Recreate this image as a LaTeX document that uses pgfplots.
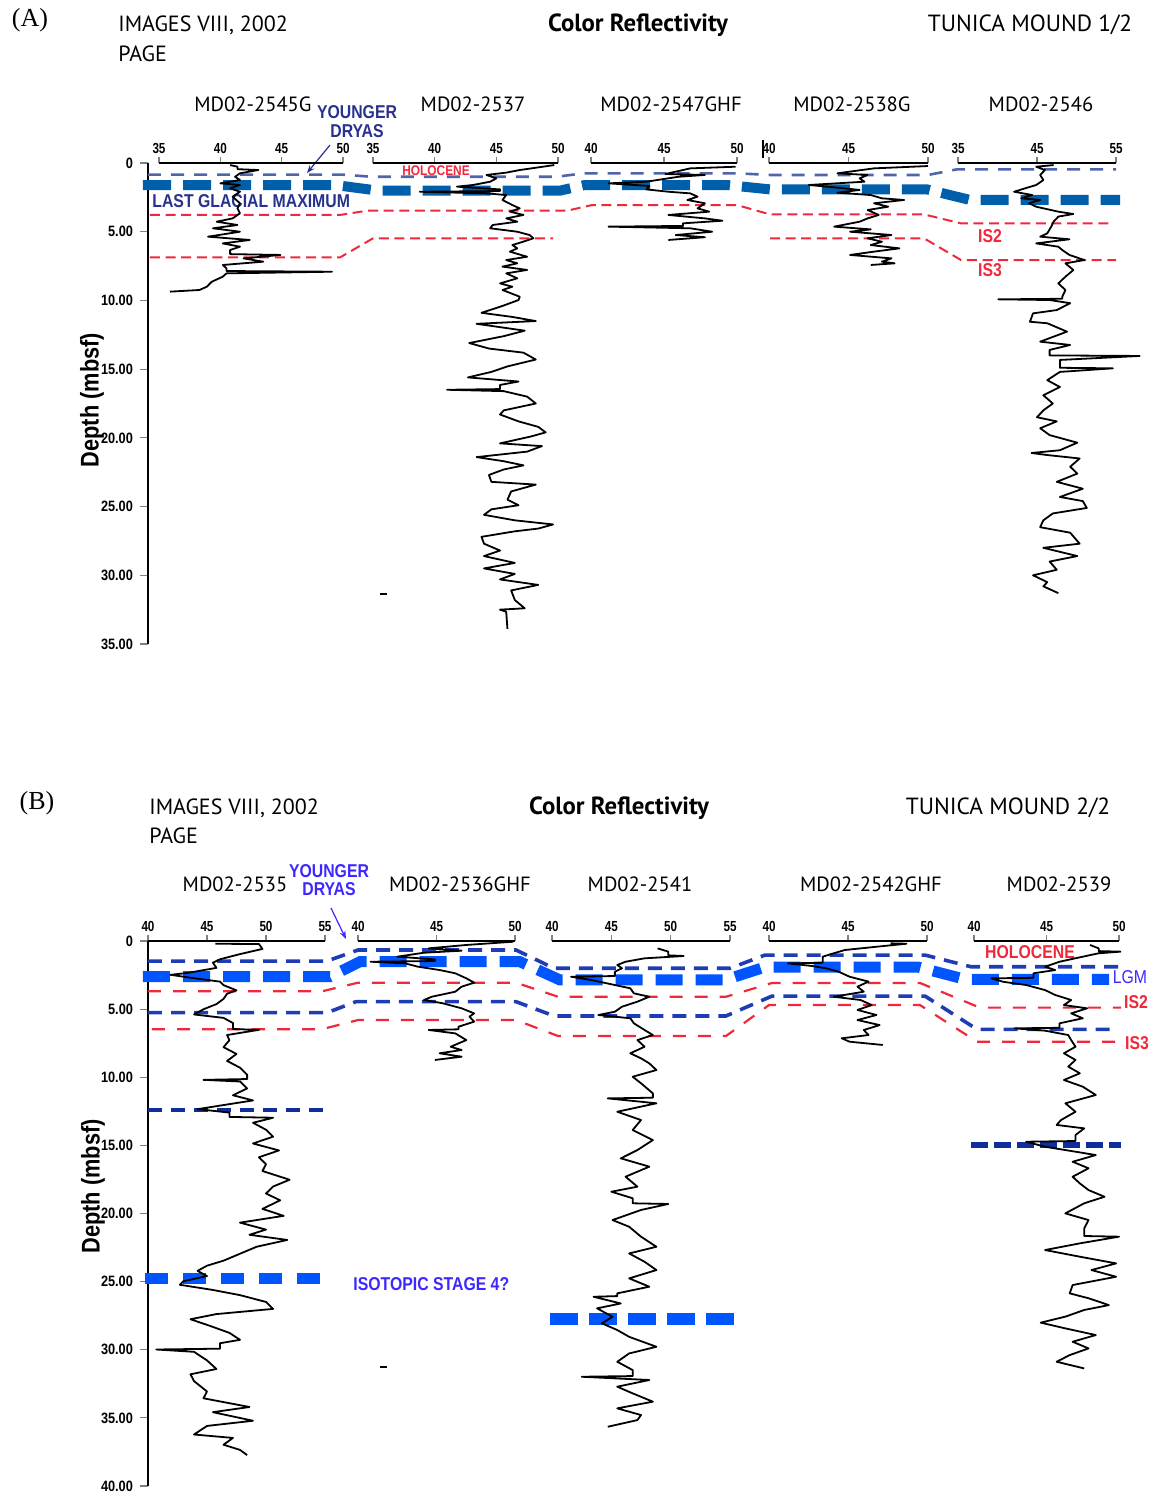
\documentclass[border=0pt]{standalone}
\usepackage{pgfplots}
\pgfplotsset{compat=1.18}
\usepackage{fontspec}
\setmainfont{PT Sans}
\newfontfamily\narrow[FakeStretch=0.85]{Liberation Sans}
\newfontfamily\ticknarrow[FakeStretch=0.8]{Liberation Sans}
\newfontfamily\serif{Liberation Serif}
\usetikzlibrary{arrows.meta}

\definecolor{aLabel}{RGB}{40,50,140}
\definecolor{aYD}{RGB}{80,100,170}
\definecolor{aLGM}{RGB}{0,95,170}
\definecolor{hRed}{RGB}{240,40,60}
\definecolor{bThin}{RGB}{30,60,180}
\definecolor{bThick}{RGB}{0,85,255}
\definecolor{bText}{RGB}{60,40,255}
\definecolor{bNavy}{RGB}{15,45,155}

\newcommand{\lab}{\narrow\bfseries\fontsize{9.3}{10}\selectfont}
\newcommand{\ttl}{\fontsize{11}{12}\selectfont}
\newcommand{\ttlb}{\fontsize{12.4}{13}\selectfont\bfseries}
\newcommand{\ttlr}{\fontsize{11.7}{12}\selectfont}
\newcommand{\core}{\fontsize{10.3}{11}\selectfont}

\pgfplotsset{
  frame/.style={scale only axis, width=503pt, xmin=148, xmax=1154,
    y dir=reverse, ymin=0, clip=false,
    axis x line=none, axis y line=left, y axis line style={-, line width=0.6pt},
    tick align=outside, major tick length=4pt, ytick style={line width=0.6pt},
    yticklabel style={font=\narrow\bfseries\fontsize{7.5}{8}\selectfont},
    every axis plot/.append style={no markers}},
  log/.style={scale only axis, y dir=reverse, ymin=0, clip=false,
    axis x line=top, axis y line=none, x axis line style={-, line width=0.6pt},
    tick align=outside, major tick length=3pt, xtick style={line width=0.6pt},
    xticklabel style={font=\ticknarrow\bfseries\fontsize{7.3}{8}\selectfont, inner sep=1.5pt}},
  trace/.style={black, line width=0.9pt, sharp plot, no markers, line join=round},
}

\begin{document}
\begin{tikzpicture}
\path[use as bounding box] (0,0) rectangle (577pt,-747.5pt);

% ---------------- panel A ----------------
\begin{axis}[frame, height=240.5pt, ymax=35, ytick={0,5,...,35},
  yticklabels={0,5.00,10.00,15.00,20.00,25.00,30.00,35.00},
  at={(74pt,-81.5pt)}, anchor=north west]
\addplot[aYD, line width=1.3pt, dash pattern=on 6.5pt off 5pt] coordinates {(148,0.85)(343,0.85)(372,1.0)(557,1.0)(583,0.75)(737,0.75)(770,0.87)(928,0.87)(957,0.46)(1116,0.46)};
\addplot[aLGM, line width=5pt, dash pattern=on 14pt off 6pt] coordinates {(143,1.60)(335,1.60)(378,2.01)(560,2.01)(585,1.60)(727,1.60)(770,1.92)(927,1.92)(970,2.69)(1120,2.69)};
\addplot[hRed, line width=1pt, dash pattern=on 5pt off 2.8pt] coordinates {(150,3.78)(340,3.78)(367,3.47)(567,3.47)(592,3.06)(737,3.06)(770,3.74)(924,3.74)(961,4.39)(1112,4.39)};
\addplot[hRed, line width=1pt, dash pattern=on 5pt off 2.8pt] coordinates {(150,6.87)(340,6.87)(373,5.48)(553,5.48)};
\addplot[hRed, line width=1pt, dash pattern=on 5pt off 2.8pt] coordinates {(770,5.48)(924,5.48)(961,7.06)(1116,7.06)};
\addplot[black, line width=0.8pt] coordinates {(380,31.36)(387,31.36)};
\addplot[black, line width=0.8pt] coordinates {(763,-1.67)(763,-0.36)};
\draw[aLabel, line width=0.6pt, -{Stealth[length=4pt]}] (330,-1.31) -- (307,0.73);
\node[font=\serif\fontsize{13}{13}\selectfont] at (30,-10.41) {(A)};
\node[anchor=west, font=\ttl, inner sep=0pt] at (118,-10.04) {IMAGES VIII, 2002};
\node[anchor=west, font=\ttl, inner sep=0pt] at (118,-7.93) {PAGE};
\node[font=\ttlb] at (638,-10.04) {Color Reflectivity};
\node[font=\ttlr] at (1030,-10.04) {TUNICA MOUND 1/2};
\node[font=\core] at (253,-4.29) {MD02-2545G};
\node[font=\core] at (473,-4.29) {MD02-2537};
\node[font=\core] at (671,-4.29) {MD02-2547GHF};
\node[font=\core] at (852,-4.29) {MD02-2538G};
\node[font=\core] at (1041,-4.29) {MD02-2546};
\node[font=\lab, text=aLabel] at (357,-3.71) {YOUNGER};
\node[font=\lab, text=aLabel] at (357,-2.33) {DRYAS};
\node[font=\narrow\bfseries\fontsize{7}{8}\selectfont, text=hRed] at (436,0.58) {HOLOCENE};
\node[anchor=west, font=\lab, text=aLabel, inner sep=0pt] at (152,2.77) {LAST GLACIAL MAXIMUM};
\node[font=\lab, text=hRed] at (990,5.31) {IS2};
\node[font=\lab, text=hRed] at (990,7.79) {IS3};
\node[rotate=90, font=\narrow\bfseries\fontsize{12.8}{13}\selectfont] at (92,17.25) {Depth (mbsf)};
\end{axis}

\begin{axis}[log, width=92pt, height=240.5pt, ymax=35, xmin=35, xmax=50,
  xtick={35,40,45,50}, xticklabels={35,40,45,50}, at={(79.5pt,-81.5pt)}, anchor=north west]
\addplot[trace] coordinates {(40.8,0.15)(41.4,0.27)(41.4,0.45)(43.1,0.51)(41.6,0.75)(41.2,1.00)(41.6,1.24)(40.0,1.48)(41.6,1.60)(40.8,1.84)(41.6,2.09)(41.0,2.45)(41.6,2.93)(41.4,3.30)(41.6,3.66)(41.0,4.03)(39.7,4.27)(41.4,4.51)(39.4,4.75)(41.6,5.00)(39.0,5.36)(42.4,5.60)(40.2,5.85)(41.6,6.09)(40.8,6.33)(40.8,6.63)(44.9,6.69)(41.9,6.94)(43.5,7.18)(40.2,7.42)(40.5,7.66)(40.5,7.86)(49.1,7.91)(40.5,8.03)(40.2,8.27)(39.3,8.64)(38.9,9.00)(38.3,9.24)(35.9,9.36)};
\end{axis}

\begin{axis}[log, width=92.5pt, height=240.5pt, ymax=35, xmin=35, xmax=50,
  xtick={35,40,45,50}, xticklabels={35,40,45,50}, at={(186.5pt,-81.5pt)}, anchor=north west]
\addplot[trace] coordinates {(49.7,0.15)(46.9,0.51)(45.8,0.70)(44.2,0.87)(45.0,1.12)(44.5,1.36)(43.1,1.60)(41.8,1.72)(45.3,1.92)(45.3,2.04)(38.8,2.09)(44.2,2.21)(45.8,2.33)(45.5,2.69)(46.3,3.06)(46.9,3.30)(46.1,3.54)(47.2,3.78)(45.8,4.03)(46.7,4.27)(44.7,4.51)(44.5,4.75)(46.7,5.00)(47.7,5.24)(48.0,5.48)(47.2,5.72)(46.3,5.97)(46.7,6.21)(46.1,6.45)(47.5,6.82)(45.8,7.06)(46.7,7.30)(45.5,7.54)(47.5,7.78)(45.8,8.03)(46.7,8.39)(45.3,8.76)(46.3,9.00)(45.5,9.24)(46.9,9.73)(46.8,9.97)(45.5,10.4)(43.8,10.9)(46.3,11.2)(48.2,11.5)(43.4,11.7)(47.3,12.2)(45.6,12.6)(42.8,13.1)(44.4,13.5)(47.2,13.8)(48.2,14.3)(45.9,14.8)(44.6,15.2)(42.7,15.6)(46.8,15.9)(45.3,16.15)(45.3,16.45)(41.0,16.5)(45.6,16.6)(47.5,17.0)(48.2,17.5)(45.6,18.0)(45.3,18.3)(46.8,18.8)(48.4,19.2)(49.0,19.6)(47.8,19.9)(45.3,20.4)(48.7,20.6)(47.5,21.0)(43.4,21.4)(45.6,21.7)(47.2,22.0)(45.6,22.3)(44.4,22.7)(44.6,23.2)(48.2,23.4)(46.2,23.9)(45.9,24.5)(46.8,24.9)(44.6,25.2)(44.0,25.6)(46.5,26.0)(49.6,26.3)(48.4,26.6)(46.5,26.8)(43.8,27.2)(44.0,27.7)(45.3,28.2)(44.0,28.6)(46.5,29.1)(44.0,29.5)(46.5,29.9)(45.3,30.3)(48.4,30.7)(46.2,31.1)(46.5,31.8)(47.3,32.4)(45.3,32.5)(45.8,32.65)(45.9,33.9)};
\end{axis}

\begin{axis}[log, width=73pt, height=240.5pt, ymax=35, xmin=40, xmax=50,
  xtick={40,45,50}, xticklabels={40,45,50}, at={(295.5pt,-81.5pt)}, anchor=north west]
\addplot[trace] coordinates {(49.9,0.27)(46.8,0.39)(45.8,0.63)(45.1,0.80)(47.8,0.87)(46.0,1.00)(43.8,1.36)(41.2,1.48)(44.0,1.67)(43.8,1.92)(45.3,2.09)(46.8,2.21)(47.3,2.45)(46.6,2.69)(47.8,2.93)(47.3,3.30)(48.1,3.54)(45.3,3.78)(47.8,4.03)(49.0,4.20)(46.3,4.39)(46.3,4.58)(41.2,4.63)(46.8,4.75)(48.3,5.00)(45.8,5.24)(47.8,5.40)(45.3,5.60)};
\end{axis}

\begin{axis}[log, width=79.5pt, height=240.5pt, ymax=35, xmin=40, xmax=50,
  xtick={40,45,50}, xticklabels={40,45,50}, at={(384.5pt,-81.5pt)}, anchor=north west]
\addplot[trace] coordinates {(50.0,0.22)(46.6,0.39)(44.3,0.75)(46.2,0.87)(45.7,1.12)(46.0,1.36)(42.5,1.60)(44.1,1.77)(45.7,1.96)(44.3,2.16)(46.4,2.33)(47.1,2.57)(48.5,2.69)(46.6,2.93)(47.5,3.18)(46.2,3.42)(46.9,3.78)(46.2,4.03)(45.7,4.27)(44.1,4.63)(46.4,4.83)(45.1,5.00)(47.7,5.24)(46.2,5.48)(47.1,5.73)(46.4,5.97)(48.2,6.21)(46.6,6.45)(45.1,6.69)(47.7,6.94)(47.1,7.18)(47.9,7.30)(46.4,7.42)};
\end{axis}

\begin{axis}[log, width=79pt, height=240.5pt, ymax=35, xmin=35, xmax=55,
  xtick={35,45,55}, xticklabels={35,45,55}, at={(479pt,-81.5pt)}, anchor=north west]
\addplot[trace] coordinates {(47.1,0.15)(44.9,0.27)(46.0,0.51)(45.4,0.87)(45.8,1.24)(44.9,1.60)(43.5,1.84)(42.1,2.09)(44.4,2.33)(43.0,2.57)(45.4,2.69)(44.0,2.93)(44.9,3.18)(47.7,3.54)(49.6,3.71)(47.7,3.90)(47.1,4.27)(46.8,4.63)(46.3,5.12)(45.4,5.36)(49.1,5.55)(44.9,5.85)(47.7,6.09)(48.2,6.33)(49.1,6.69)(51.0,7.06)(48.6,7.30)(49.6,7.79)(48.6,8.27)(47.7,8.76)(48.6,9.24)(48.2,9.73)(48.2,9.88)(40.1,9.92)(46.6,9.97)(49.2,10.2)(47.5,10.7)(44.5,10.94)(44.1,11.55)(46.3,11.66)(48.8,12.27)(45.4,13.0)(49.2,13.24)(46.6,13.6)(46.6,14.0)(58.0,14.04)(47.9,14.33)(47.9,14.9)(54.6,14.94)(47.9,15.2)(46.3,15.8)(47.9,16.3)(45.8,16.9)(47.0,17.5)(45.8,18.0)(45.0,18.5)(47.5,18.8)(45.4,19.3)(46.6,19.8)(50.1,20.35)(47.9,20.9)(44.3,21.1)(46.3,21.25)(50.4,21.5)(49.2,22.1)(50.1,22.6)(47.5,23.2)(50.8,23.7)(47.9,24.3)(50.8,24.6)(51.3,25.1)(47.0,25.5)(45.8,26.0)(45.4,26.5)(49.2,26.9)(50.4,27.7)(45.8,28.0)(50.1,28.6)(46.6,29.0)(47.5,29.6)(44.5,30.0)(46.3,30.5)(45.8,30.8)(47.7,31.3)};
\end{axis}

% ---------------- panel B ----------------
\begin{axis}[frame, height=272.5pt, ymax=40, ytick={0,5,...,40},
  yticklabels={0,5.00,10.00,15.00,20.00,25.00,30.00,35.00,40.00},
  at={(74pt,-470.5pt)}, anchor=north west]
\addplot[bThin, line width=1.8pt, dash pattern=on 7pt off 4.5pt] coordinates {(148,1.47)(327,1.47)(358,0.66)(516,0.66)(554,2.0)(730,2.0)(765,1.03)(925,1.03)(971,1.89)(1121,1.89)};
\addplot[bThick, line width=5.5pt, dash pattern=on 13.5pt off 6.5pt] coordinates {(143,2.61)(330,2.61)(360,1.52)(520,1.52)(560,2.86)(725,2.86)(765,1.91)(918,1.91)(965,2.81)(1109,2.81)};
\addplot[hRed, line width=1.1pt, dash pattern=on 6.5pt off 6pt] coordinates {(148,3.69)(322,3.69)(358,3.06)(516,3.06)(558,4.09)(726,4.09)(772,3.08)(920,3.08)(980,4.89)(1121,4.89)};
\addplot[bThin, line width=1.8pt, dash pattern=on 7pt off 4.5pt] coordinates {(148,5.26)(327,5.26)(356,4.45)(516,4.45)(554,5.50)(726,5.50)(772,4.04)(925,4.04)(977,6.48)(1117,6.48)};
\addplot[hRed, line width=1.1pt, dash pattern=on 6.5pt off 6pt] coordinates {(152,6.47)(322,6.47)(358,5.80)(516,5.80)(558,6.97)(726,6.97)(769,4.70)(920,4.70)(977,7.39)(1121,7.39)};
\addplot[bNavy, line width=2pt, dash pattern=on 7pt off 4.5pt] coordinates {(148,12.39)(328,12.39)};
\addplot[bNavy, line width=3.3pt, dash pattern=on 8.5pt off 3pt] coordinates {(971,14.97)(1121,14.97)};
\addplot[bThick, line width=5.5pt, dash pattern=on 11.5pt off 7.5pt] coordinates {(145,24.79)(330,24.79)};
\addplot[bThick, line width=6pt, dash pattern=on 14pt off 5.5pt] coordinates {(550,27.77)(736,27.77)};
\addplot[black, line width=0.8pt] coordinates {(380,31.27)(387,31.27)};
\draw[bText, line width=0.6pt, -{Stealth[length=4pt]}] (331,-2.42) -- (346,-0.15);
\node[font=\serif\fontsize{13}{13}\selectfont] at (37,-10.13) {(B)};
\node[anchor=west, font=\ttl, inner sep=0pt] at (149,-9.76) {IMAGES VIII, 2002};
\node[anchor=west, font=\ttl, inner sep=0pt] at (149,-7.71) {PAGE};
\node[font=\ttlb] at (619,-9.76) {Color Reflectivity};
\node[font=\ttlr] at (1008,-9.76) {TUNICA MOUND 2/2};
\node[font=\core] at (235,-4.18) {MD02-2535};
\node[font=\core] at (460,-4.18) {MD02-2536GHF};
\node[font=\core] at (640,-4.18) {MD02-2541};
\node[font=\core] at (871,-4.18) {MD02-2542GHF};
\node[font=\core] at (1059,-4.18) {MD02-2539};
\node[font=\lab, text=bText] at (329,-5.14) {YOUNGER};
\node[font=\lab, text=bText] at (329,-3.82) {DRYAS};
\node[font=\lab, text=hRed] at (1030,0.81) {HOLOCENE};
\node[font=\narrow\fontsize{9.3}{10}\selectfont, text=bText] at (1130,2.64) {LGM};
\node[font=\lab, text=hRed] at (1136,4.48) {IS2};
\node[font=\lab, text=hRed] at (1137,7.49) {IS3};
\node[anchor=west, font=\lab, text=bText, inner sep=0pt] at (353,25.17) {ISOTOPIC STAGE 4?};
\node[rotate=90, font=\narrow\bfseries\fontsize{12.8}{13}\selectfont] at (93,18.0) {Depth (mbsf)};
\end{axis}

\begin{axis}[log, width=88.5pt, height=272.5pt, ymax=40, xmin=40, xmax=55,
  xtick={40,45,50,55}, xticklabels={40,45,50,55}, at={(74pt,-470.5pt)}, anchor=north west]
\addplot[trace] coordinates {(45.7,0.20)(49.4,0.22)(49.7,0.58)(47.8,0.96)(46.1,1.34)(45.5,1.59)(45.8,1.97)(43.3,2.35)(41.9,2.48)(43.9,2.73)(46.1,2.98)(46.4,3.24)(47.5,3.62)(46.7,3.87)(46.4,4.25)(45.8,4.63)(44.7,5.01)(43.9,5.39)(46.4,5.64)(47.2,6.02)(47.2,6.46)(49.4,6.52)(46.7,6.90)(46.9,7.28)(46.4,7.79)(47.5,8.29)(46.7,8.80)(47.8,9.30)(48.4,9.81)(48.4,10.13)(44.7,10.19)(47.8,10.31)(48.4,10.82)(47.2,11.32)(48.9,11.70)(46.1,12.08)(44.2,12.34)(46.9,12.59)(46.9,12.91)(50.6,12.97)(48.9,13.34)(50.0,13.85)(50.6,14.36)(48.9,14.86)(51.1,15.37)(49.4,15.87)(50.0,16.38)(49.7,16.88)(52.0,17.52)(50.6,18.02)(50.0,18.53)(51.2,19.03)(49.7,19.66)(51.5,20.17)(47.8,20.67)(50.0,21.18)(48.6,21.56)(51.8,21.94)(49.2,22.44)(47.8,22.95)(46.4,23.46)(45.0,23.83)(44.2,24.21)(45.0,24.59)(43.0,24.97)(42.7,25.23)(45.5,25.61)(47.8,25.99)(50.0,26.49)(50.6,27.00)(45.8,27.38)(43.6,27.76)(45.3,28.26)(46.9,28.76)(47.8,29.27)(46.1,29.52)(46.1,29.92)(40.7,29.98)(43.9,30.15)(45.0,30.78)(45.8,31.41)(43.6,31.80)(43.9,32.30)(45.0,33.06)(44.7,33.56)(48.6,34.20)(45.5,34.58)(48.9,35.21)(45.0,35.59)(43.9,36.22)(47.2,36.47)(46.4,36.97)(47.8,37.35)(48.4,37.73)};
\end{axis}

\begin{axis}[log, width=78.5pt, height=272.5pt, ymax=40, xmin=40, xmax=50,
  xtick={40,45,50}, xticklabels={40,45,50}, at={(179pt,-470.5pt)}, anchor=north west]
\addplot[trace] coordinates {(49.9,0.05)(46.9,0.29)(44.5,0.54)(46.6,0.71)(44.2,0.86)(42.5,1.15)(44.9,1.35)(44.9,1.47)(40.8,1.52)(43.0,1.64)(43.8,1.88)(45.2,2.13)(46.2,2.37)(46.9,2.74)(47.4,3.06)(46.6,3.35)(46.2,3.72)(44.7,4.09)(44.2,4.33)(45.4,4.57)(46.6,4.94)(47.4,5.31)(47.1,5.55)(47.4,5.92)(46.4,6.29)(46.4,6.48)(44.5,6.53)(46.2,6.78)(46.9,7.27)(45.9,7.76)(46.6,8.00)(45.2,8.24)(46.6,8.49)(44.9,8.73)};
\end{axis}

\begin{axis}[log, width=89pt, height=272.5pt, ymax=40, xmin=40, xmax=55,
  xtick={40,45,50,55}, xticklabels={40,45,50,55}, at={(276pt,-470.5pt)}, anchor=north west]
\addplot[trace] coordinates {(48.9,0.54)(49.8,0.78)(49.8,1.05)(51.1,1.10)(47.8,1.27)(46.2,1.52)(45.5,1.76)(45.9,2.00)(45.3,2.25)(45.3,2.57)(41.6,2.62)(43.3,2.86)(44.6,3.10)(46.6,3.47)(46.9,3.84)(48.2,4.09)(47.2,4.45)(45.9,4.82)(45.3,5.19)(43.9,5.43)(46.6,5.67)(46.9,6.04)(47.8,6.53)(48.5,6.90)(47.2,7.27)(47.8,7.76)(46.6,8.24)(47.5,8.61)(48.2,8.98)(48.8,9.47)(46.8,9.96)(47.5,10.44)(48.5,11.18)(48.5,11.50)(44.7,11.55)(48.8,11.91)(45.5,12.53)(47.5,13.14)(46.8,13.87)(48.5,14.61)(47.2,15.34)(45.8,15.95)(48.2,16.56)(46.2,17.30)(47.2,18.03)(45.0,18.40)(46.8,18.88)(46.8,19.25)(49.8,19.30)(47.5,19.74)(45.1,20.48)(46.5,20.97)(47.5,21.70)(48.8,22.44)(46.5,22.93)(47.8,23.54)(48.8,24.15)(46.5,24.76)(48.2,25.37)(45.5,25.86)(45.5,26.06)(43.5,26.11)(45.8,26.60)(43.8,26.96)(45.1,27.58)(44.2,28.06)(45.5,28.55)(46.5,29.05)(48.8,29.78)(46.5,30.27)(45.5,30.88)(46.8,31.49)(46.8,31.93)(42.5,31.98)(48.2,32.22)(45.5,32.71)(46.8,33.20)(48.5,33.81)(45.5,34.30)(47.5,34.79)(47.2,35.16)(44.7,35.65)};
\end{axis}

\begin{axis}[log, width=79pt, height=272.5pt, ymax=40, xmin=40, xmax=50,
  xtick={40,45,50}, xticklabels={40,45,50}, at={(384.5pt,-470.5pt)}, anchor=north west]
\addplot[trace] coordinates {(47.7,0.17)(48.7,0.20)(46.8,0.42)(44.8,0.66)(44.1,0.90)(43.4,1.15)(43.4,1.39)(43.4,1.60)(41.2,1.64)(42.7,1.83)(43.6,2.00)(44.4,2.25)(45.1,2.62)(46.3,2.98)(45.6,3.35)(46.0,3.72)(44.1,4.09)(45.8,4.33)(46.5,4.70)(45.6,5.06)(46.8,5.43)(45.6,5.80)(47.0,6.17)(46.0,6.53)(46.3,6.90)(44.6,7.14)(45.1,7.39)(47.2,7.63)};
\end{axis}

\begin{axis}[log, width=72.5pt, height=272.5pt, ymax=40, xmin=40, xmax=50,
  xtick={40,45,50}, xticklabels={40,45,50}, at={(487pt,-470.5pt)}, anchor=north west]
\addplot[trace] coordinates {(48.0,0.29)(48.6,0.54)(48.6,0.74)(50.1,0.78)(48.6,0.90)(47.5,1.15)(45.9,1.52)(44.9,1.89)(45.6,2.13)(44.1,2.37)(44.1,2.70)(41.2,2.74)(42.0,2.99)(43.6,3.23)(44.9,3.60)(45.6,3.96)(46.7,4.33)(46.2,4.70)(47.8,4.94)(46.7,5.31)(47.5,5.67)(45.9,6.04)(45.9,6.37)(42.8,6.41)(44.9,6.58)(46.5,6.90)(46.7,7.27)(47.0,7.76)(46.2,8.24)(47.0,8.73)(46.5,9.22)(47.3,9.71)(46.2,10.20)(47.5,10.69)(48.4,11.30)(46.3,11.91)(47.0,12.53)(46.0,13.14)(45.7,13.50)(47.6,13.75)(47.0,14.24)(47.0,14.68)(43.6,14.73)(44.9,15.10)(46.3,15.34)(48.4,15.71)(46.8,16.20)(47.9,16.68)(46.8,17.30)(47.3,17.79)(47.9,18.28)(49.0,18.77)(47.6,19.25)(46.3,19.99)(47.9,20.48)(47.6,21.09)(47.6,21.65)(50.0,21.70)(47.3,22.19)(44.9,22.68)(47.3,23.17)(49.8,23.66)(48.1,24.15)(49.8,24.64)(46.8,25.25)(46.6,25.86)(47.9,26.22)(49.3,26.72)(47.6,27.08)(46.3,27.57)(44.6,28.01)(46.3,28.43)(48.4,28.92)(46.8,29.41)(47.9,29.90)(46.6,30.39)(45.7,30.88)(47.6,31.37)};
\end{axis}
\end{tikzpicture}
\end{document}
